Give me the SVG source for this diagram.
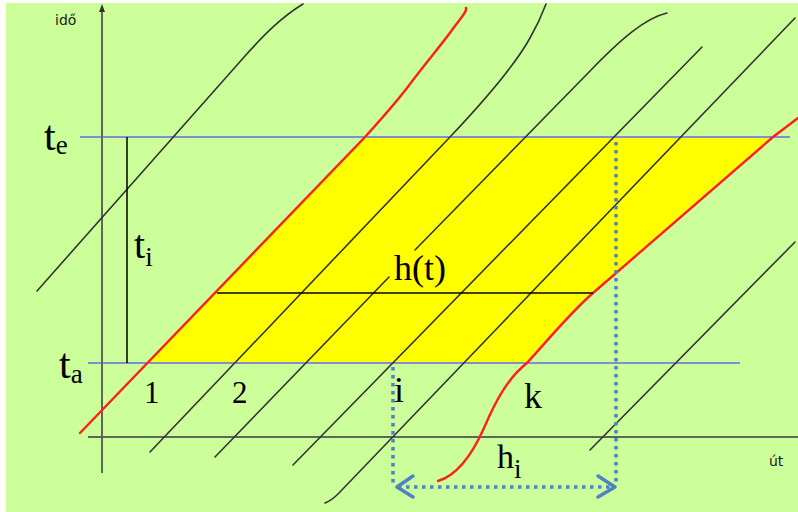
<svg xmlns="http://www.w3.org/2000/svg" width="798" height="512" viewBox="0 0 798 512">
  <defs>
    <style>
      .veh { fill: none; stroke: #333333; stroke-width: 1.6; stroke-linecap: round; }
      .red { fill: none; stroke: #FF1E1E; stroke-width: 2.4; stroke-linecap: round; }
      .hline { stroke: #7F8FD0; stroke-width: 1.8; }
      .axis { stroke: #5E6658; stroke-width: 2; }
      .blk { stroke: #000000; stroke-width: 1.5; }
      .dot { fill: none; stroke: #4F81C4; stroke-width: 3.5; stroke-dasharray: 3.5 4.5; }
      .chev { fill: none; stroke: #4F81C4; stroke-width: 3.5; stroke-linecap: round; stroke-linejoin: round; }
      .lbl { font-family: "Liberation Serif", "Times New Roman", serif; fill: #000000; }
      .sans { font-family: "DejaVu Sans", sans-serif; font-size: 14px; fill: #1A1A1A; }
    </style>
  </defs>

  <rect x="0" y="0" width="798" height="512" fill="#FFFFFF"/>
  <rect x="6" y="3" width="792" height="509" fill="#CCFF99"/>

  <g id="region">
    <path d="M365,137 L773,137 L593,293 C570,313 548,340 527,363 L147,363 Z" fill="#FFFF00"/>
  </g>

  <g id="time-lines">
    <line class="hline" x1="80" y1="137" x2="790" y2="137"/>
    <line class="hline" x1="88" y1="363" x2="740" y2="363"/>
  </g>

  <g id="axes">
    <line class="axis" x1="102" y1="9" x2="102" y2="473"/>
    <polygon points="102,4 99,12 105,12" fill="#333333"/>
    <line class="axis" x1="88" y1="437" x2="798" y2="437"/>
    <text class="sans" x="55" y="25">idő</text>
    <text class="sans" x="769" y="466">út</text>
  </g>

  <g id="connectors">
    <path class="veh" d="M37,291 L245,56 C262,37 280,18 303,4"/>
    <path class="veh" d="M150,452 L450,137 C485,100 515,65 530,38 C538,24 543,12 546,4"/>
    <path class="veh" d="M215,457 L389,277"/>
    <path class="veh" d="M415,250 L591,70 C620,40 645,18 667,13"/>
    <path class="veh" d="M293,465 L702,47"/>
    <path class="veh" d="M325,503 C330,501 334,498 338,494 L795,18"/>
    <path class="veh" d="M590,450 L795,242"/>
    <path class="red" d="M80,433 L365,137 C385,115 400,98 413,80 C430,58 445,40 452,30 C462,16 467,12 466,8"/>
    <path class="red" d="M438,481 C458,475 472,455 484,428 C496,400 508,378 527,363 C548,340 570,313 593,293 L773,137 L798,118"/>
    <line class="blk" x1="217" y1="293" x2="593" y2="293"/>
    <line class="blk" x1="127" y1="137" x2="127" y2="363"/>
  </g>

  <g id="headway">
    <line class="dot" x1="393" y1="367" x2="393" y2="484"/>
    <line class="dot" x1="616" y1="142" x2="616" y2="484"/>
    <line class="dot" x1="398" y1="487" x2="612" y2="487"/>
    <polyline class="chev" points="413,476 397,487 413,497"/>
    <polyline class="chev" points="598,476 615,487 598,497"/>
  </g>

  <g id="labels">
    <text class="lbl" x="44" y="150" font-size="42">t<tspan font-size="27" dy="4">e</tspan></text>
    <text class="lbl" x="59" y="378" font-size="42">t<tspan font-size="27" dy="5">a</tspan></text>
    <text class="lbl" x="134" y="258" font-size="40">t<tspan font-size="27" dy="8">i</tspan></text>
    <text class="lbl" x="144" y="403" font-size="31">1</text>
    <text class="lbl" x="232" y="403" font-size="31">2</text>
    <text class="lbl" x="394" y="402" font-size="36">i</text>
    <text class="lbl" x="524" y="408" font-size="36">k</text>
    <text class="lbl" x="394" y="280" font-size="36">h(t)</text>
    <text class="lbl" x="497" y="468" font-size="34">h<tspan font-size="27" dy="10">i</tspan></text>
  </g>
</svg>
